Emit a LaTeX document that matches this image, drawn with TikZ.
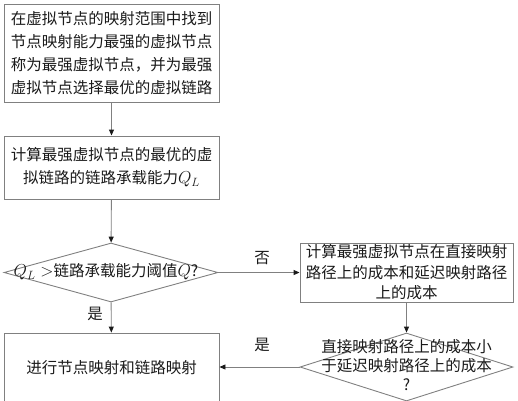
\documentclass[tikz,border=0pt]{standalone}
\usepackage{fontspec}
\usepackage{tikz}
\usetikzlibrary{arrows.meta,positioning,shapes.geometric}
\newfontfamily\cjk{Noto Sans CJK SC}
\DeclareMathSizes{15.5}{19}{13}{10}
\definecolor{frame}{HTML}{808080}
\definecolor{ink}{HTML}{1A1A1A}
\tikzset{
  block/.style={draw=frame, line width=0.9pt, rectangle, align=center,
                inner sep=0pt, text=ink, font=\cjk\fontsize{15.5}{23}\selectfont},
  decision/.style={draw=frame, line width=0.9pt, diamond, inner sep=0pt},
  words/.style={align=center, inner sep=0pt, text=ink,
                font=\cjk\fontsize{15.5}{19}\selectfont},
  arrow/.style={-{Triangle[length=6pt,width=5pt,color=ink]}, line width=0.9pt, draw=frame}
}

\begin{document}
\begin{tikzpicture}[x=1pt,y=-1pt]
    \useasboundingbox (0,0) rectangle (518,400);
    % ===== left column =====
    \node[block, minimum width=215pt, minimum height=98pt] (find) at (111.5,53)
      {在虚拟节点的映射范围中找到\\节点映射能力最强的虚拟节点\\称为最强虚拟节点，并为最强\\虚拟节点选择最优的虚拟链路};
    \node[block, minimum width=215pt, minimum height=63pt] (load) at (111.5,167.5)
      {计算最强虚拟节点的最优的虚\\拟链路的链路承载能力$Q_L$};
    \node[decision, minimum width=214pt, minimum height=59pt] (judge) at (111,272.5) {};
    \node[words] (judgetxt) at (106,272) {$Q_L >$链路承载能力阈值$Q$?};
    \node[block, minimum width=215pt, minimum height=70pt] (map) at (111.5,368)
      {进行节点映射和链路映射};

    % ===== right column =====
    \node[block, minimum width=213pt, minimum height=59pt,
          font=\cjk\fontsize{15.5}{20.5}\selectfont] (cost) at (406.5,272.5)
      {计算最强虚拟节点在直接映射\\路径上的成本和延迟映射路径\\上的成本};
    \node[decision, minimum width=213pt, minimum height=68pt] (cmp) at (406.5,367) {};
    \node[words] (cmptxt) at (406.5,365)
      {直接映射路径上的成本小\\于延迟映射路径上的成本\\?};

    % ===== links =====
    \draw[arrow] (find) -- (load);
    \draw[arrow] (load) -- (judge);
    \draw[arrow] (judge) -- (map);
    \draw[arrow] (judge.east) -- (cost.west);
    \draw[arrow] (cost) -- (cmp);
    \draw[arrow] (cmp.west) -- (cmp.west -| map.east);
    \node[words] (no) at (262,258) {否};
    \node[words] (yesdown) at (95,314) {是};
    \node[words] (yesleft) at (262,345) {是};
  \end{tikzpicture}
\end{document}
